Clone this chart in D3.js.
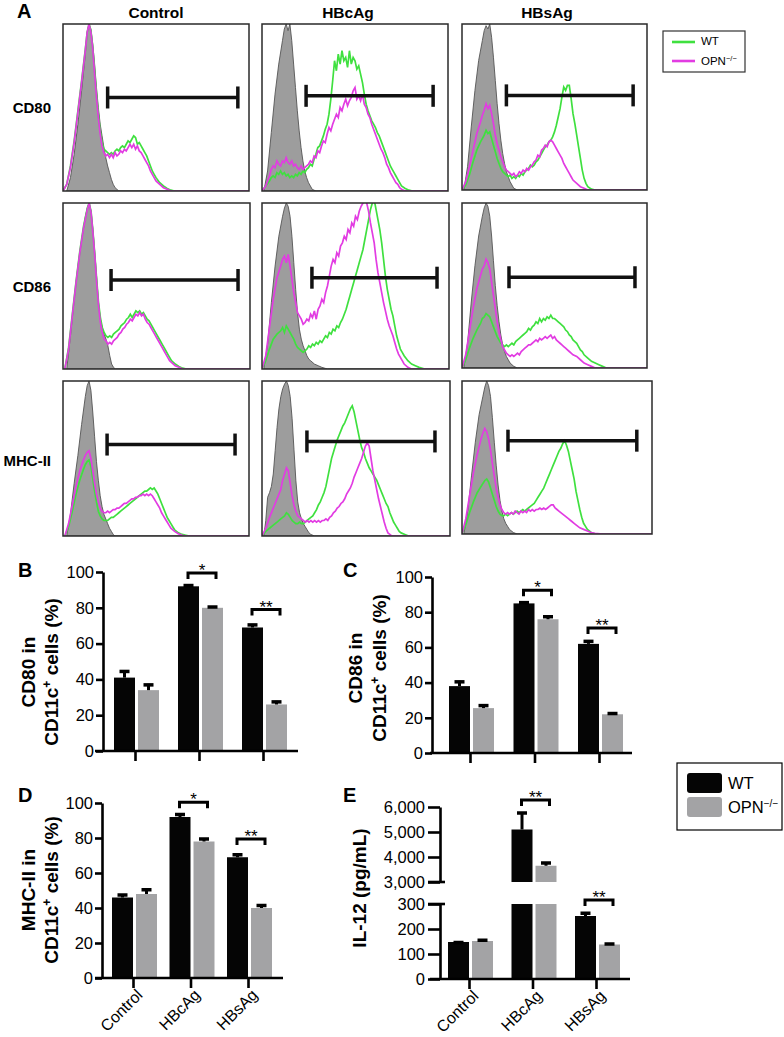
<!DOCTYPE html>
<html><head><meta charset="utf-8">
<script src="https://cdn.jsdelivr.net/npm/d3@7"></script>
<style>body{margin:0;background:#fff}svg{display:block}text{font-family:"Liberation Sans",Arial,Helvetica,sans-serif;fill:#000}</style>
</head><body><svg id="c" width="784" height="1037"></svg>
<script>
// ===== DATA =====
const histCols = ["Control","HBcAg","HBsAg"];
const histRows = ["CD80","CD86","MHC-II"];
// Histogram curves: [channel %, count % of max]
const iso_CD80_Control=[[2,0],[4,8],[6,22],[8,40],[10,60],[12,82],[13,95],[14,100],[15,97],[16,88],[17,76],[18,62],[19,50],[20,40],[21,33],[22,26],[23,20],[24,15],[25,11],[26,7],[27,4],[28,2],[30,0],[100,0]];
const wt_CD80_Control=[[0,0],[2,4],[4,15],[6,30],[8,48],[10,66],[12,85],[13,95],[14,100],[15,96],[16,86],[17,72],[18,58],[19,46],[20,36],[21,29],[22,25],[23,24],[24,23],[25,22],[26,23],[27,22],[28,24],[29,25],[30,24],[31,26],[32,27],[33,26],[34,28],[35,30],[36,29],[37,31],[38,33],[39,32],[40,28],[41,29],[42,27],[43,25],[44,23],[45,21],[46,18],[47,15],[48,12],[49,10],[50,8],[52,5],[54,3],[56,1.5],[58,0.5],[60,0],[100,0]];
const opn_CD80_Control=[[0,0],[2,4],[4,14],[6,29],[8,47],[10,65],[12,84],[13,95],[14,100],[15,95],[16,85],[17,70],[18,56],[19,44],[20,34],[21,27],[22,23],[23,21],[24,22],[25,20],[26,22],[27,20],[28,23],[29,21],[30,22],[31,24],[32,23],[33,25],[34,24],[35,26],[36,28],[37,26],[38,28],[39,25],[40,27],[41,24],[42,23],[43,21],[44,19],[45,17],[46,15],[47,12],[48,10],[49,8],[50,6],[52,4],[54,2],[56,1],[58,0],[100,0]];
const iso_CD80_HBcAg=[[1,0],[3,12],[5,35],[7,58],[9,76],[11,90],[12,97],[13,100],[14,96],[15,100],[16,90],[17,76],[18,62],[19,48],[20,36],[21,26],[22,18],[23,12],[24,8],[25,5],[26,3],[27,1],[29,0],[100,0]];
const wt_CD80_HBcAg=[[0,0],[2,3],[4,6],[5,8],[6,9],[7,8],[8,11],[9,10],[10,12],[11,10],[12,11],[13,9],[14,10],[15,8],[16,9],[17,8],[18,10],[19,9],[20,11],[21,10],[22,12],[23,11],[24,13],[25,14],[26,16],[27,15],[28,19],[29,22],[30,26],[31,27],[32,30],[33,33],[34,37],[35,40],[36,46],[37,55],[38,66],[39,78],[40,72],[41,82],[42,76],[43,84],[44,78],[45,80],[46,74],[47,84],[48,76],[49,80],[50,78],[51,73],[52,75],[53,70],[54,65],[55,58],[56,52],[57,48],[58,45],[59,42],[60,40],[61,38],[62,35],[63,33],[64,30],[65,27],[66,24],[67,21],[68,18],[69,15],[70,13],[71,11],[72,9],[73,7],[74,5],[75,3],[77,1.5],[79,0.5],[81,0],[100,0]];
const opn_CD80_HBcAg=[[0,0],[2,3],[4,9],[5,13],[6,15],[7,14],[8,18],[9,16],[10,15],[11,18],[12,17],[13,20],[14,17],[15,16],[16,18],[17,15],[18,16],[19,14],[20,13],[21,15],[22,13],[23,14],[24,15],[25,16],[26,18],[27,17],[28,21],[29,20],[30,24],[31,23],[32,27],[33,30],[34,29],[35,34],[36,38],[37,36],[38,40],[39,43],[40,46],[41,44],[42,50],[43,48],[44,52],[45,55],[46,51],[47,54],[48,56],[49,60],[50,62],[51,55],[52,57],[53,54],[54,58],[55,52],[56,50],[57,46],[58,44],[59,40],[60,37],[61,34],[62,31],[63,28],[64,25],[65,23],[66,20],[67,16],[68,14],[69,11],[70,9],[71,7],[72,5],[73,4],[74,2],[75,1],[77,0],[100,0]];
const iso_CD80_HBsAg=[[1,0],[3,14],[5,38],[7,60],[9,78],[11,90],[12,96],[13,99],[14,97],[15,100],[16,92],[17,80],[18,66],[19,52],[20,40],[21,30],[22,22],[23,16],[24,11],[25,8],[26,5],[27,3],[28,1],[30,0],[100,0]];
const wt_CD80_HBsAg=[[0,0],[2,3],[4,9],[6,17],[8,24],[10,29],[11,31],[12,33],[13,36],[14,34],[15,35],[16,31],[17,27],[18,23],[19,19],[20,16],[21,13],[22,11],[23,10],[24,9],[25,8],[26,9],[27,7],[28,8],[29,7],[30,9],[31,8],[32,10],[33,9],[34,11],[35,12],[36,13],[37,15],[38,14],[39,15],[40,17],[41,18],[42,20],[43,22],[44,24],[45,26],[46,27],[47,29],[48,30],[49,32],[50,35],[51,39],[52,44],[53,49],[54,56],[55,62],[56,60],[57,63],[58,63],[59,55],[60,46],[61,40],[62,33],[63,26],[64,19],[65,12],[66,7],[67,4],[68,2],[70,0.5],[72,0],[100,0]];
const opn_CD80_HBsAg=[[0,0],[2,5],[4,14],[6,24],[8,34],[10,41],[11,45],[12,48],[13,52],[14,49],[15,51],[16,46],[17,40],[18,33],[19,28],[20,24],[21,20],[22,17],[23,14],[24,12],[25,11],[26,10],[27,9],[28,10],[29,8],[30,9],[31,11],[32,10],[33,12],[34,11],[35,13],[36,12],[37,14],[38,15],[39,17],[40,18],[41,21],[42,20],[43,24],[44,25],[45,27],[46,26],[47,29],[48,30],[49,29],[50,27],[51,25],[52,23],[53,21],[54,19],[55,16],[56,14],[57,12],[58,10],[59,8],[60,6],[62,4],[64,2],[66,1],[68,0],[100,0]];
const iso_CD86_Control=[[2,0],[4,20],[6,42],[8,62],[10,78],[12,92],[13,97],[14,100],[15,95],[16,84],[17,70],[18,55],[19,40],[20,30],[21,25],[22,21],[23,18],[24,14],[25,8],[26,3],[27,1],[28,0],[100,0]];
const wt_CD86_Control=[[1,0],[3,13],[5,33],[7,53],[9,71],[11,86],[13,97],[14,100],[15,95],[16,83],[17,69],[18,54],[19,40],[20,31],[21,25],[22,22],[23,20],[24,19],[25,20],[26,19],[27,21],[28,22],[29,23],[30,24],[31,26],[32,27],[33,28],[34,30],[35,31],[36,33],[37,31],[38,33],[39,35],[40,34],[41,35],[42,33],[43,34],[44,32],[45,30],[46,29],[47,27],[48,25],[49,23],[50,21],[51,19],[52,17],[53,15],[54,13],[55,11],[56,9],[57,7],[58,5],[60,3],[62,1.5],[64,0.5],[66,0],[100,0]];
const opn_CD86_Control=[[1,0],[3,12],[5,32],[7,52],[9,70],[11,85],[13,96],[14,100],[15,94],[16,82],[17,68],[18,52],[19,38],[20,28],[21,22],[22,18],[23,17],[24,15],[25,16],[26,15],[27,17],[28,18],[29,19],[30,21],[31,22],[32,24],[33,25],[34,27],[35,28],[36,30],[37,29],[38,31],[39,33],[40,32],[41,34],[42,32],[43,33],[44,30],[45,28],[46,27],[47,25],[48,23],[49,21],[50,19],[51,17],[52,15],[53,13],[54,11],[55,9],[56,7],[57,5],[58,4],[60,2],[62,1],[64,0],[100,0]];
const iso_CD86_HBcAg=[[1,0],[3,15],[5,40],[7,62],[9,80],[11,92],[12,97],[13,100],[14,98],[15,92],[16,80],[17,64],[18,48],[19,34],[20,24],[21,18],[22,14],[23,11],[24,8],[25,6],[26,5],[28,3],[30,2],[32,1],[35,0],[100,0]];
const wt_CD86_HBcAg=[[0,0],[2,5],[4,12],[6,18],[8,21],[10,23],[11,25],[12,22],[13,26],[14,24],[15,22],[16,20],[17,18],[18,15],[19,13],[20,12],[21,11],[22,10],[23,11],[24,12],[25,14],[26,13],[27,15],[28,14],[29,16],[30,15],[31,17],[32,16],[33,18],[34,20],[35,19],[36,22],[37,21],[38,24],[39,23],[40,26],[41,25],[42,28],[43,30],[44,33],[45,36],[46,40],[47,44],[48,48],[49,52],[50,56],[51,60],[52,64],[53,68],[54,72],[55,78],[56,84],[57,90],[58,96],[59,100],[60,102],[61,96],[62,90],[63,84],[64,76],[65,66],[66,56],[67,48],[68,42],[69,36],[70,32],[71,26],[72,20],[73,16],[74,12],[75,10],[76,8],[78,5],[80,3],[82,2],[84,1],[87,0],[100,0]];
const opn_CD86_HBcAg=[[0,0],[2,8],[4,25],[6,42],[8,55],[10,62],[11,66],[12,68],[13,64],[14,69],[15,62],[16,54],[17,46],[18,40],[19,34],[20,32],[21,30],[22,27],[23,28],[24,30],[25,29],[26,33],[27,31],[28,35],[29,30],[30,36],[31,38],[32,42],[33,40],[34,46],[35,50],[36,56],[37,62],[38,66],[39,64],[40,70],[41,68],[42,74],[43,76],[44,80],[45,78],[46,84],[47,82],[48,88],[49,86],[50,92],[51,90],[52,95],[53,98],[54,100],[55,102],[56,100],[57,95],[58,88],[59,82],[60,76],[61,66],[62,58],[63,52],[64,46],[65,40],[66,35],[67,30],[68,26],[69,23],[70,20],[71,16],[72,12],[73,9],[74,7],[75,5],[76,3],[78,1],[80,0],[100,0]];
const iso_CD86_HBsAg=[[1,0],[3,15],[5,40],[7,62],[9,80],[11,92],[12,97],[13,100],[14,98],[15,92],[16,80],[17,65],[18,50],[19,38],[20,28],[21,20],[22,14],[23,10],[24,7],[25,5],[26,3],[28,1],[30,0],[100,0]];
const wt_CD86_HBsAg=[[0,0],[2,5],[4,12],[6,18],[8,23],[10,27],[11,30],[12,31],[13,33],[14,32],[15,31],[16,28],[17,25],[18,22],[19,19],[20,17],[21,15],[22,14],[23,13],[24,14],[25,13],[26,14],[27,15],[28,14],[29,16],[30,17],[31,18],[32,19],[33,20],[34,21],[35,22],[36,24],[37,23],[38,25],[39,26],[40,28],[41,27],[42,30],[43,28],[44,30],[45,29],[46,31],[47,30],[48,32],[49,30],[50,30],[51,29],[52,28],[53,27],[54,26],[55,25],[56,23],[57,22],[58,20],[59,19],[60,17],[61,16],[62,15],[63,13],[64,11],[65,10],[66,8],[68,6],[70,4],[72,3],[74,2],[76,1],[78,0],[100,0]];
const opn_CD86_HBsAg=[[0,0],[2,8],[4,22],[6,36],[8,48],[10,56],[11,60],[12,62],[13,66],[14,64],[15,60],[16,52],[17,44],[18,36],[19,28],[20,22],[21,17],[22,13],[23,11],[24,9],[25,8],[26,7],[27,8],[28,7],[29,8],[30,9],[31,8],[32,10],[33,11],[34,12],[35,13],[36,14],[37,14],[38,15],[39,16],[40,17],[41,16],[42,18],[43,17],[44,18],[45,19],[46,18],[47,19],[48,20],[49,18],[50,19],[51,17],[52,16],[53,15],[54,14],[55,13],[56,12],[57,11],[58,10],[59,9],[60,8],[62,7],[64,5],[66,3],[68,2],[70,1],[72,0],[100,0]];
const iso_MHCII_Control=[[2,0],[4,14],[6,34],[8,52],[10,72],[12,90],[13,97],[14,100],[15,94],[16,80],[17,64],[18,48],[19,36],[20,26],[21,19],[22,14],[23,11],[24,8],[25,5],[26,3],[27,1],[28,0],[100,0]];
const wt_MHCII_Control=[[1,0],[3,6],[5,16],[7,27],[9,36],[11,43],[12,46],[13,48],[14,49],[15,45],[16,37],[17,29],[18,22],[19,16],[20,13],[21,11],[22,10],[23,10],[24,10],[25,11],[26,12],[27,12],[28,13],[29,14],[30,15],[31,16],[32,17],[33,18],[34,19],[35,20],[36,21],[37,22],[38,23],[39,24],[40,25],[41,26],[42,27],[43,28],[44,29],[45,29],[46,30],[47,31],[48,30],[49,31],[50,29],[51,27],[52,24],[53,21],[54,18],[55,15],[56,12],[57,10],[58,8],[59,6],[60,4],[62,2],[64,1],[66,0.5],[68,0],[100,0]];
const opn_MHCII_Control=[[1,0],[3,8],[5,20],[7,32],[9,42],[11,49],[12,52],[13,54],[14,55],[15,50],[16,42],[17,34],[18,27],[19,22],[20,18],[21,16],[22,15],[23,15],[24,16],[25,15],[26,16],[27,17],[28,17],[29,18],[30,18],[31,19],[32,20],[33,21],[34,21],[35,22],[36,23],[37,24],[38,24],[39,25],[40,25],[41,26],[42,26],[43,27],[44,26],[45,27],[46,26],[47,27],[48,26],[49,24],[50,22],[51,20],[52,18],[53,15],[54,13],[55,11],[56,9],[57,7],[58,5],[60,3],[62,1.5],[64,0.5],[66,0],[100,0]];
const iso_MHCII_HBcAg=[[1,0],[2,10],[3,25],[4,28],[5,32],[6,40],[7,55],[8,70],[9,82],[10,90],[11,95],[12,98],[13,100],[14,97],[15,90],[16,76],[17,56],[18,36],[19,22],[20,15],[21,11],[22,8],[23,6],[24,4],[25,2],[26,1],[28,0],[100,0]];
const wt_MHCII_HBcAg=[[0,0],[2,3],[4,5],[6,7],[8,9],[10,11],[11,12],[12,13],[13,15],[14,14],[15,12],[16,10],[17,9],[18,8],[19,8],[20,9],[21,8],[22,8],[23,9],[24,10],[25,11],[26,12],[27,13],[28,15],[29,17],[30,20],[31,22],[32,25],[33,28],[34,32],[35,38],[36,44],[37,50],[38,54],[39,58],[40,62],[41,65],[42,68],[43,71],[44,73],[45,76],[46,79],[47,82],[48,84],[49,80],[50,74],[51,68],[52,62],[53,57],[54,54],[55,50],[56,47],[57,44],[58,42],[59,40],[60,38],[61,36],[62,33],[63,30],[64,27],[65,24],[66,21],[67,19],[68,15],[69,12],[70,9],[71,7],[72,5],[73,3],[74,2],[76,1],[78,0],[100,0]];
const opn_MHCII_HBcAg=[[0,0],[2,5],[4,12],[6,18],[8,24],[10,30],[11,36],[12,40],[13,44],[14,42],[15,34],[16,26],[17,20],[18,16],[19,13],[20,12],[21,11],[22,10],[23,9],[24,10],[25,9],[26,10],[27,9],[28,10],[29,9],[30,10],[31,9],[32,10],[33,10],[34,11],[35,10],[36,12],[37,13],[38,15],[39,16],[40,18],[41,19],[42,21],[43,22],[44,24],[45,27],[46,29],[47,31],[48,34],[49,38],[50,41],[51,44],[52,47],[53,50],[54,54],[55,58],[56,60],[57,58],[58,50],[59,42],[60,36],[61,30],[62,24],[63,19],[64,14],[65,9],[66,5],[67,2],[68,1],[69,0],[100,0]];
const iso_MHCII_HBsAg=[[1,0],[3,15],[5,38],[7,60],[9,78],[11,90],[12,96],[13,100],[14,97],[15,90],[16,76],[17,60],[18,45],[19,32],[20,22],[21,15],[22,10],[23,7],[24,5],[25,3],[27,1],[29,0],[100,0]];
const wt_MHCII_HBsAg=[[0,0],[2,6],[4,14],[6,21],[8,27],[10,31],[11,33],[12,35],[13,36],[14,34],[15,30],[16,26],[17,22],[18,18],[19,15],[20,13],[21,12],[22,12],[23,13],[24,12],[25,13],[26,14],[27,13],[28,14],[29,15],[30,14],[31,15],[32,16],[33,15],[34,16],[35,17],[36,18],[37,19],[38,20],[39,22],[40,24],[41,26],[42,28],[43,30],[44,33],[45,36],[46,39],[47,42],[48,45],[49,48],[50,51],[51,54],[52,56],[53,59],[54,61],[55,58],[56,54],[57,48],[58,42],[59,36],[60,28],[61,22],[62,16],[63,11],[64,7],[65,5],[66,3],[67,2],[68,1],[70,0],[100,0]];
const opn_MHCII_HBsAg=[[0,0],[2,10],[4,25],[6,40],[8,52],[10,62],[11,66],[12,69],[13,67],[14,62],[15,55],[16,46],[17,38],[18,30],[19,24],[20,19],[21,16],[22,14],[23,13],[24,14],[25,13],[26,14],[27,13],[28,15],[29,14],[30,13],[31,15],[32,14],[33,15],[34,14],[35,16],[36,15],[37,16],[38,15],[39,16],[40,16],[41,17],[42,16],[43,17],[44,16],[45,17],[46,18],[47,19],[48,19],[49,17],[50,16],[51,15],[52,14],[53,13],[54,12],[55,11],[56,10],[57,9],[58,8],[59,7],[60,6],[62,4],[64,3],[66,2],[68,1],[70,0.5],[74,0],[100,0]];
// Gates: [from %, to %, level %]
const gate_CD80=[[24,94,56],[23.7,92,57],[24,92.5,57]];
const gate_CD86=[[25.7,93.6,53.6],[26.7,93.6,55],[25.4,93.5,55]];
const gate_MHCII=[[23.7,92.5,59],[23.9,92,61],[24.2,92,61]];

// Bar data
const cats=["Control","HBcAg","HBsAg"];
const seriesNames=["WT","OPN\u2212/\u2212"];
const cd80WT=[41,92,69], cd80WTerr=[4,1,2], cd80OPN=[34,80,26], cd80OPNerr=[3.5,1,2];
const cd86WT=[38,85,62], cd86WTerr=[3,1,2], cd86OPN=[25.5,76,22], cd86OPNerr=[2,2,1];
const mhcWT=[46,92,69], mhcWTerr=[2,2,2], mhcOPN=[48,78,40], mhcOPNerr=[3,2,2];
const il12WT=[148,5100,252], il12WTerr=[2,700,15], il12OPN=[152,3650,138], il12OPNerr=[7,150,6];
const pctTicks=[0,20,40,60,80,100];
const il12LowTicks=[0,100,200,300], il12HighTicks=[3000,4000,5000,6000];
const sigCD80=[["HBcAg","*",99.5],["HBsAg","**",79]];
const sigCD86=[["HBcAg","*",92.5],["HBsAg","**",71]];
const sigMHC=[["HBcAg","*",100.5],["HBsAg","**",79.5]];
const sigIL12=[["HBcAg","**",6280],["HBsAg","**",316]];

// ===== DRAW =====
const svg=d3.select('#c');
const curves={
 CD80:{Control:[iso_CD80_Control,wt_CD80_Control,opn_CD80_Control],HBcAg:[iso_CD80_HBcAg,wt_CD80_HBcAg,opn_CD80_HBcAg],HBsAg:[iso_CD80_HBsAg,wt_CD80_HBsAg,opn_CD80_HBsAg]},
 CD86:{Control:[iso_CD86_Control,wt_CD86_Control,opn_CD86_Control],HBcAg:[iso_CD86_HBcAg,wt_CD86_HBcAg,opn_CD86_HBcAg],HBsAg:[iso_CD86_HBsAg,wt_CD86_HBsAg,opn_CD86_HBsAg]},
 "MHC-II":{Control:[iso_MHCII_Control,wt_MHCII_Control,opn_MHCII_Control],HBcAg:[iso_MHCII_HBcAg,wt_MHCII_HBcAg,opn_MHCII_HBcAg],HBsAg:[iso_MHCII_HBsAg,wt_MHCII_HBsAg,opn_MHCII_HBsAg]}
};
const gates={CD80:gate_CD80,CD86:gate_CD86,"MHC-II":gate_MHCII};
const boxes=[
 [[63,24,186,167],[262,24,186,167],[462,24,185,166]],
 [[63,203,187,166],[262,203,187,166],[462,203,185,165]],
 [[63,381,186,155],[262,381,188,155],[462,381,190,153]]];
const GREEN="#3fe03f", MAG="#e23ce2";

histRows.forEach((r,ri)=>{
  histCols.forEach((c,ci)=>{
    const [bx,by,bw,bh]=boxes[ri][ci];
    const [iso,wt,opn]=curves[r][c];
    const gate=gates[r][ci];
    const g=svg.append('g').attr('transform',`translate(${bx},${by})`);
    const x=d3.scaleLinear().domain([0,100]).range([0,bw]);
    const y=d3.scaleLinear().domain([0,100]).range([bh,0]);
    const id=`clip${ri}${ci}`;
    g.append('clipPath').attr('id',id).append('rect').attr('width',bw).attr('height',bh);
    const inner=g.append('g').attr('clip-path',`url(#${id})`);
    inner.append('path').datum(iso).attr('d',d3.area().x(p=>x(p[0])).y0(bh).y1(p=>y(p[1])))
      .attr('fill','#9d9d9d').attr('stroke','#555').attr('stroke-width',0.9);
    const line=d3.line().x(p=>x(p[0])).y(p=>y(p[1]));
    inner.append('path').datum(wt).attr('d',line).attr('fill','none').attr('stroke',GREEN).attr('stroke-width',1.7);
    inner.append('path').datum(opn).attr('d',line).attr('fill','none').attr('stroke',MAG).attr('stroke-width',1.7);
    const gy=y(gate[2]), gx1=x(gate[0]), gx2=x(gate[1]);
    g.append('line').attr('x1',gx1).attr('x2',gx2).attr('y1',gy).attr('y2',gy).attr('stroke','#111').attr('stroke-width',3.5);
    [gx1,gx2].forEach(xx=>g.append('line').attr('x1',xx).attr('x2',xx).attr('y1',gy-11).attr('y2',gy+11).attr('stroke','#111').attr('stroke-width',3.5));
    g.append('rect').attr('width',bw).attr('height',bh).attr('fill','none').attr('stroke','#2a2a2a').attr('stroke-width',1.5);
  });
});
// column & row labels
const colCx=[156,348,547];
histCols.forEach((c,i)=>svg.append('text').attr('x',colCx[i]).attr('y',18).attr('text-anchor','middle').attr('font-weight','bold').attr('font-size',15.5).text(c));
const rowBase=[113,292,466];
histRows.forEach((r,i)=>svg.append('text').attr('x',51).attr('y',rowBase[i]).attr('text-anchor','end').attr('font-weight','bold').attr('font-size',15).text(r));
// hist legend
svg.append('rect').attr('x',663).attr('y',31).attr('width',82).attr('height',41).attr('fill','#fff').attr('stroke','#333').attr('stroke-width',1.2);
[[GREEN,42,45],[MAG,61,65]].forEach(([col,ly,tb],i)=>{
  svg.append('line').attr('x1',672).attr('x2',695).attr('y1',ly).attr('y2',ly).attr('stroke',col).attr('stroke-width',2.6);
  const t=svg.append('text').attr('x',701).attr('y',tb).attr('font-size',11.5);
  if(i===0) t.text(seriesNames[0]);
  else { t.text("OPN"); t.append('tspan').attr('font-size',7.5).attr('dy',-4.5).text("\u2212/\u2212"); }
});
// panel letters
[["A",17,18],["B",18,577],["C",343,577],["D",18,802],["E",343,802]].forEach(([l,x,y])=>
  svg.append('text').attr('x',x).attr('y',y).attr('font-weight','bold').attr('font-size',20).text(l));

// bar panels
function ylabel(x,y,parts){
  const t=svg.append('text').attr('transform',`translate(${x},${y}) rotate(-90)`).attr('text-anchor','middle')
    .attr('font-weight','bold').attr('font-size',19);
  parts.forEach(p=>{
    if(p[1]) t.append('tspan').attr('font-size',12).attr('dy',-7).text(p[0]);
    else t.append('tspan').attr('dy',p[2]||0).text(p[0]);
  });
}
function cd11(x,y){ ylabel(x,y,[["CD11c"],["+",1],[" cells (%)",0,7]]); }

function barPanel(o){
  const g=svg.append('g');
  const x=d3.scalePoint().domain(cats).range(o.xr);
  const segs=o.segs, ypx=o.ypx;
  const draw=(vals,errs,col,off)=>{
    cats.forEach((c,i)=>{
      const bx=x(c)+off, v=vals[i], e=errs[i];
      segs(v).forEach(([t,b])=>g.append('rect').attr('x',bx).attr('y',t).attr('width',21).attr('height',b-t).attr('fill',col));
      const cx=bx+10.5, yt=ypx(v+e);
      g.append('line').attr('x1',cx).attr('x2',cx).attr('y1',ypx(v)).attr('y2',yt).attr('stroke','#000').attr('stroke-width',3);
      g.append('line').attr('x1',cx-5).attr('x2',cx+5).attr('y1',yt+1).attr('y2',yt+1).attr('stroke','#000').attr('stroke-width',3.5);
    });
  };
  draw(o.wt,o.wtErr,'#050505',-21);
  draw(o.opn,o.opnErr,'#a3a3a5',3);
  // x axis
  g.append('line').attr('x1',o.xa[0]).attr('x2',o.xa[1]).attr('y1',o.y0).attr('y2',o.y0).attr('stroke','#000').attr('stroke-width',2.6);
  const xa=g.append('g').attr('transform',`translate(0,${o.y0})`)
    .call(d3.axisBottom(x).tickSize(10).tickSizeOuter(0).tickFormat(o.labels?null:""));
  xa.select('.domain').remove();
  xa.selectAll('.tick line').attr('stroke','#000').attr('stroke-width',2.6);
  if(o.labels){
    xa.selectAll('.tick text').attr('text-anchor','end').attr('font-size',16).attr('fill','#000')
      .attr('transform','translate(6,14) rotate(-45)').attr('dy','0.35em').attr('y',0).attr('x',0);
  }
  // y axes
  o.yaxes.forEach(a=>{
    const ya=g.append('g').attr('transform',`translate(${o.axisX},0)`)
      .call(d3.axisLeft(a.scale).tickValues(a.ticks).tickSize(a.ts).tickSizeOuter(0).tickPadding(a.tp).tickFormat(a.fmt||d3.format("d")));
    ya.select('.domain').attr('stroke','#000').attr('stroke-width',2.6);
    ya.selectAll('.tick line').attr('stroke','#000').attr('stroke-width',2.6);
    ya.selectAll('.tick text').attr('font-size',16.5).attr('fill','#000');
  });
  (o.breaks||[]).forEach(by=>g.append('line').attr('x1',o.axisX-12).attr('x2',o.axisX+5).attr('y1',by).attr('y2',by).attr('stroke','#000').attr('stroke-width',2.6));
  // significance
  o.sig.forEach(([c,lab,v])=>{
    const cx=x(c), yb=ypx(v);
    g.append('path').attr('d',`M${cx-11},${yb+6}V${yb}H${cx+17}V${yb+6}`).attr('fill','none').attr('stroke','#000').attr('stroke-width',3);
    g.append('text').attr('x',cx+3).attr('y',yb+3).attr('text-anchor','middle').attr('font-size',17).text(lab);
  });
}
function linPanel(axisX,y0,y100,xr,xa,wt,wtErr,opn,opnErr,sig,labels){
  const y=d3.scaleLinear().domain([0,100]).range([y0,y100]);
  barPanel({axisX,y0,xr,xa,wt,wtErr,opn,opnErr,sig,labels,
    segs:v=>[[y(v),y(0)]], ypx:v=>y(v),
    yaxes:[{scale:y,ticks:pctTicks,ts:7,tp:2}]});
}
linPanel(103,751,572,[135,263],[95,298],cd80WT,cd80WTerr,cd80OPN,cd80OPNerr,sigCD80,false);
linPanel(432,753,577,[470,599],[430,632],cd86WT,cd86WTerr,cd86OPN,cd86OPNerr,sigCD86,false);
linPanel(102,978,803,[133,248],[95,283],mhcWT,mhcWTerr,mhcOPN,mhcOPNerr,sigMHC,true);
// IL-12 broken axis
(function(){
  const yL=d3.scaleLinear().domain([0,300]).range([979,904]);
  const yU=d3.scaleLinear().domain([3000,6000]).range([882,807]);
  barPanel({axisX:440,y0:979,xr:[469,596],xa:[430,630],wt:il12WT,wtErr:il12WTerr,opn:il12OPN,opnErr:il12OPNerr,sig:sigIL12,labels:true,
    segs:v=>v<=300?[[yL(v),yL(0)]]:[[yL(300),yL(0)],[yU(v),yU(3000)]],
    ypx:v=>v<3000?yL(v):yU(v),
    yaxes:[{scale:yL,ticks:il12LowTicks,ts:12,tp:3},{scale:yU,ticks:il12HighTicks,ts:12,tp:3,fmt:d3.format(",")}],
    breaks:[yU(3000),yL(300)]});
})();
// y labels
ylabel(35,672,[["CD80 in"]]); cd11(58,672);
ylabel(362,668,[["CD86 in"]]); cd11(386,668);
ylabel(35,890,[["MHC-II in"]]); cd11(58,890);
ylabel(366,888,[["IL-12 (pg/mL)"]]);
// bar legend
svg.append('rect').attr('x',677).attr('y',763).attr('width',105).attr('height',67).attr('fill','#fff').attr('stroke','#000').attr('stroke-width',1.2);
[['#050505',773,789],['#a3a3a5',797,813]].forEach(([col,ry,tb],i)=>{
  svg.append('rect').attr('x',687).attr('y',ry).attr('width',35).attr('height',20).attr('rx',3).attr('fill',col);
  const t=svg.append('text').attr('x',728).attr('y',tb).attr('font-size',16.5);
  if(i===0) t.text(seriesNames[0]);
  else { t.text("OPN"); t.append('tspan').attr('font-size',10).attr('dy',-6).text("\u2212/\u2212"); }
});
</script></body></html>
